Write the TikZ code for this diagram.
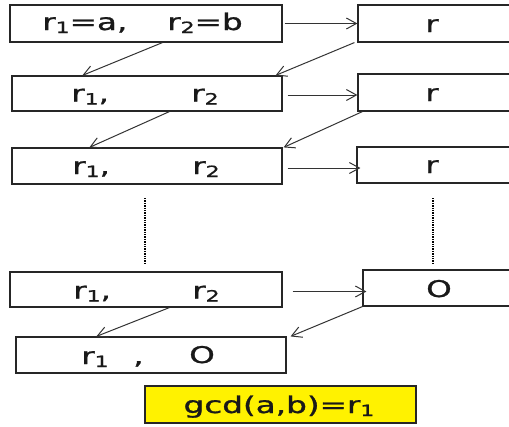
\documentclass[tikz,border=0pt]{standalone}
\usepackage{fontspec}
\setmainfont{DejaVu Sans}
\newfontfamily\lblfont{DejaVu Sans}[FakeBold=0.9]
\usetikzlibrary{arrows.meta}
% horizontally widened lettering and a lowered small index
\newcommand\widetext[1]{\scalebox{1.42}[1]{#1}}
\newcommand\idx[1]{\raisebox{-3pt}{\fontsize{15.5}{15.5}\selectfont #1}}
\begin{document}
\begin{tikzpicture}[x=1pt,y=-1pt,
  box/.style={draw=black!85, line width=1.2pt, inner sep=0pt},
  lbl/.style={anchor=base west, inner sep=0pt, text=black!90, font=\lblfont\fontsize{23}{23}\selectfont},
  clbl/.style={anchor=base, inner sep=0pt, text=black!90, font=\lblfont\fontsize{23}{23}\selectfont},
  link/.style={draw=black!80, line width=1pt, -{Straight Barb[length=10pt,width=11pt]}},
  ellip/.style={draw=black, line width=2.6pt, dash pattern=on 1.4pt off 1pt}]
\useasboundingbox (0,0) rectangle (509,426);
\clip (0,0) rectangle (509,426);

% left column: pairs (r1, r2)
\node[box, minimum width=272pt, minimum height=37pt] (A1) at (146,23.5) {};
\node[box, minimum width=270pt, minimum height=35pt] (A2) at (147,93.5) {};
\node[box, minimum width=270pt, minimum height=36pt] (A3) at (147,166) {};
\node[box, minimum width=272pt, minimum height=35pt] (A4) at (146,289.5) {};
\node[box, minimum width=270pt, minimum height=36pt] (A5) at (151,355) {};
% right column: remainders
\node[box, minimum width=157pt, minimum height=37pt] (B1) at (436.5,23.5) {};
\node[box, minimum width=157pt, minimum height=37pt] (B2) at (436.5,92.5) {};
\node[box, minimum width=158pt, minimum height=36pt] (B3) at (436,165) {};
\node[box, minimum width=152pt, minimum height=36pt] (B4) at (439,288) {};
% result
\node[box, fill=yellow, minimum width=271pt, minimum height=37pt] (G) at (280.5,404.5) {};

% labels
\node[lbl] (t1a) at (42,30) {\widetext{r\idx{1}=a,}};
\node[lbl] (t1b) at (167,30) {\widetext{r\idx{2}=b}};
\node[lbl] (t2a) at (71,101.5) {\widetext{r\idx{1},}};
\node[lbl] (t2b) at (191,101.5) {\widetext{r\idx{2}}};
\node[lbl] (t3a) at (72,174) {\widetext{r\idx{1},}};
\node[lbl] (t3b) at (192,174) {\widetext{r\idx{2}}};
\node[lbl] (t4a) at (73,298.5) {\widetext{r\idx{1},}};
\node[lbl] (t4b) at (192,298.5) {\widetext{r\idx{2}}};
\node[lbl] (t5a) at (81,364) {\widetext{r\idx{1}}};
\node[lbl] (t5c) at (133,364) {\widetext{,}};
\node[lbl] (t5b) at (189,363) {\widetext{O}};
\node[clbl] (u1) at (432,32) {\widetext{r}};
\node[clbl] (u2) at (432,101) {\widetext{r}};
\node[clbl] (u3) at (432,173) {\widetext{r}};
\node[clbl] (u4) at (439,297) {\widetext{O}};
\node[clbl] (g) at (279,413) {\widetext{gcd(a,b)=r\idx{1}}};

% horizontal steps: pair -> remainder
\draw[link] ([xshift=2pt]A1.east) -- (A1.east -| B1.west);
\draw[link] ([xshift=5pt,yshift=-1.5pt]A2.east) -- ([yshift=-1.5pt]A2.east -| B2.west);
\draw[link] ([xshift=5pt,yshift=-2pt]A3.east) -- ([xshift=4pt,yshift=-2pt]A3.east -| B3.west);
\draw[link] ([xshift=10pt,yshift=-2pt]A4.east) -- ([xshift=4pt,yshift=-2pt]A4.east -| B4.west);

% diagonal steps: r2 -> new r1, r -> new r2
\draw[link] ([xshift=153pt]A1.south west) -- ([xshift=71pt]A2.north west);
\draw[link] ([xshift=-3pt]B1.south west) -- ([xshift=-7pt]A2.north east);
\draw[link] ([xshift=158pt]A2.south west) -- ([xshift=78pt]A3.north west);
\draw[link] ([xshift=5pt]B2.south west) -- ([xshift=1pt]A3.north east);
\draw[link] ([xshift=160pt]A4.south west) -- ([xshift=81pt]A5.north west);
\draw[link] (B4.south west) -- ([xshift=4pt]A5.north east);

% elided steps
\coordinate (d1) at (145,198);
\coordinate (d2) at (145,263);
\coordinate (e1) at (433,198);
\coordinate (e2) at (433,263);
\draw[ellip] (d1) -- (d2);
\draw[ellip] (e1) -- (e2);
\end{tikzpicture}
\end{document}
